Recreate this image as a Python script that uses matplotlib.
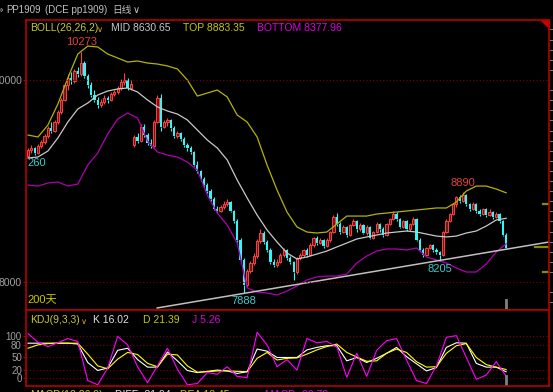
import matplotlib
matplotlib.use("Agg")
import matplotlib.pyplot as plt
from matplotlib.patches import Polygon
from matplotlib.ticker import MultipleLocator

plt.rcParams['font.family'] = ['Liberation Sans', 'Noto Sans CJK SC', 'DejaVu Sans']

# daily candles, PP1909
opens = [9250, 9310, 9330, 9280, 9350, 9390, 9450, 9520, 9500, 9580,
         9680, 9800, 9950, 10020, 9990, 10090, 10060, 10170, 10040, 9950,
         9850, 9800, 9750, 9780, 9820, 9800, 9860, 9880, 9920, 9980,
         10000, 9920, 9360, 9440, 9400, 9530, 9460, 9380, 9350, 9580,
         9820, 9530, 9580, 9600, 9520, 9450, 9480, 9420, 9360, 9330,
         9290, 9160, 9100, 9020, 8960, 8900, 8820, 8720, 8700, 8740,
         8770, 8790, 8700, 8600, 8420, 8220, 7970, 8110, 8190, 8260,
         8410, 8490, 8400, 8320, 8200, 8170, 8200, 8270, 8320, 8240,
         8200, 8100, 8240, 8270, 8320, 8270, 8370, 8440, 8390, 8420,
         8360, 8420, 8500, 8640, 8570, 8500, 8540, 8470, 8560, 8600,
         8520, 8560, 8490, 8540, 8440, 8500, 8570, 8520, 8470, 8570,
         8620, 8670, 8620, 8540, 8600, 8520, 8570, 8620, 8420, 8320,
         8270, 8340, 8370, 8320, 8300, 8270, 8500, 8600, 8670, 8770,
         8840, 8800, 8860, 8770, 8720, 8770, 8700, 8670, 8720, 8660,
         8690, 8640, 8670, 8600, 8470]
highs = [9330, 9360, 9340, 9370, 9410, 9470, 9540, 9580, 9600, 9700,
         9820, 9970, 10060, 10080, 10110, 10130, 10273, 10190, 10060, 9980,
         9900, 9830, 9810, 9850, 9840, 9880, 9900, 9940, 10010, 10070,
         10020, 10000, 9460, 9480, 9560, 9560, 9480, 9420, 9600, 9850,
         9860, 9600, 9620, 9610, 9540, 9500, 9490, 9440, 9380, 9350,
         9300, 9200, 9110, 9040, 8980, 8920, 8840, 8750, 8760, 8800,
         8820, 8800, 8710, 8620, 8440, 8240, 8130, 8210, 8290, 8430,
         8520, 8510, 8420, 8340, 8230, 8230, 8290, 8340, 8330, 8260,
         8210, 8250, 8290, 8330, 8340, 8390, 8450, 8460, 8440, 8430,
         8440, 8510, 8660, 8680, 8590, 8560, 8550, 8570, 8620, 8610,
         8580, 8570, 8560, 8550, 8510, 8590, 8580, 8540, 8580, 8630,
         8700, 8690, 8630, 8610, 8610, 8580, 8640, 8630, 8440, 8340,
         8350, 8380, 8380, 8340, 8310, 8510, 8620, 8680, 8780, 8850,
         8860, 8890, 8870, 8780, 8790, 8780, 8720, 8730, 8730, 8720,
         8700, 8690, 8680, 8610, 8490]
lows = [9230, 9280, 9260, 9270, 9330, 9370, 9430, 9480, 9490, 9560,
        9660, 9790, 9900, 9960, 9970, 10030, 10040, 10020, 9920, 9830,
        9780, 9720, 9730, 9760, 9770, 9790, 9840, 9860, 9900, 9950,
        9900, 9900, 9340, 9380, 9390, 9440, 9360, 9330, 9340, 9570,
        9500, 9520, 9540, 9500, 9430, 9430, 9400, 9340, 9300, 9270,
        9150, 9080, 9000, 8940, 8880, 8800, 8710, 8680, 8690, 8720,
        8750, 8690, 8580, 8400, 8200, 7888, 7950, 8090, 8170, 8240,
        8390, 8380, 8300, 8180, 8150, 8150, 8190, 8250, 8220, 8180,
        8020, 8080, 8220, 8250, 8250, 8260, 8350, 8370, 8380, 8340,
        8350, 8400, 8490, 8550, 8480, 8490, 8450, 8460, 8550, 8500,
        8510, 8480, 8470, 8430, 8430, 8490, 8500, 8450, 8460, 8560,
        8610, 8600, 8530, 8530, 8510, 8510, 8560, 8410, 8310, 8250,
        8260, 8330, 8300, 8280, 8205, 8260, 8490, 8590, 8660, 8740,
        8780, 8790, 8750, 8700, 8710, 8680, 8650, 8660, 8640, 8650,
        8620, 8630, 8580, 8460, 8330]
closes = [9310, 9330, 9280, 9350, 9390, 9450, 9520, 9500, 9580, 9680,
          9800, 9950, 10020, 9990, 10090, 10060, 10170, 10040, 9950, 9850,
          9800, 9750, 9780, 9820, 9800, 9860, 9880, 9920, 9980, 10000,
          9920, 9960, 9440, 9400, 9530, 9460, 9380, 9350, 9580, 9820,
          9530, 9580, 9600, 9520, 9450, 9480, 9420, 9360, 9330, 9290,
          9160, 9100, 9020, 8960, 8900, 8820, 8720, 8700, 8740, 8770,
          8790, 8700, 8600, 8420, 8220, 7970, 8110, 8190, 8260, 8410,
          8490, 8400, 8320, 8200, 8170, 8200, 8270, 8320, 8240, 8200,
          8100, 8240, 8270, 8320, 8270, 8370, 8440, 8390, 8420, 8360,
          8420, 8500, 8640, 8570, 8500, 8540, 8470, 8560, 8600, 8520,
          8560, 8490, 8540, 8440, 8500, 8570, 8520, 8470, 8570, 8620,
          8670, 8620, 8540, 8600, 8520, 8570, 8620, 8420, 8320, 8270,
          8340, 8370, 8320, 8300, 8270, 8500, 8600, 8670, 8770, 8840,
          8800, 8860, 8770, 8720, 8770, 8700, 8670, 8720, 8660, 8690,
          8640, 8670, 8600, 8470, 8340]

# BOLL(26,26,2) and KDJ(9,3,3), read every third bar
ind_bars = list(range(0, 145, 3))
boll_top = [9455, 9436, 9554, 9762, 10020, 10257, 10336, 10327, 10257, 10218,
            10178, 10188, 10168, 10158, 10139, 10109, 10000, 9841, 9871, 9901,
            9832, 9653, 9584, 9436, 9158, 8911, 8693, 8545, 8495, 8485,
            8495, 8574, 8653, 8653, 8653, 8673, 8683, 8693, 8703, 8713,
            8723, 8733, 8733, 8792, 8901, 8950, 8950, 8921, 8883]
boll_mid = [9228, 9238, 9297, 9426, 9584, 9713, 9772, 9851, 9891, 9911,
            9921, 9881, 9802, 9733, 9693, 9663, 9604, 9505, 9406, 9327,
            9208, 9010, 8832, 8663, 8515, 8396, 8287, 8228, 8248, 8277,
            8307, 8347, 8386, 8426, 8446, 8465, 8485, 8495, 8505, 8495,
            8475, 8455, 8446, 8455, 8485, 8505, 8554, 8614, 8631]
boll_bot = [8960, 8950, 8980, 8990, 8950, 8970, 9158, 9277, 9465, 9614,
            9673, 9624, 9396, 9287, 9257, 9238, 9188, 9109, 8861, 8683,
            8564, 8386, 7941, 7901, 7891, 7871, 7911, 7960, 8020, 8050,
            8059, 8059, 8079, 8188, 8257, 8307, 8327, 8327, 8317, 8337,
            8248, 8218, 8188, 8139, 8099, 8099, 8178, 8297, 8378]
kdj_k = [84, 84, 84, 84, 84, 82, 38, 19, 25, 67,
         72, 45, 27, 27, 63, 42, 19, 14, 17, 20,
         18, 12, 16, 70, 65, 50, 50, 50, 68, 74,
         78, 78, 42, 50, 38, 48, 60, 74, 52, 35,
         18, 26, 74, 85, 84, 36, 27, 27, 16.02]
kdj_d = [72, 80, 83, 84, 84, 84, 58, 30, 23, 46,
         62, 57, 36, 28, 58, 56, 30, 15, 16, 18,
         18, 17, 16, 48, 62, 44, 48, 49, 58, 68,
         76, 82, 62, 51, 41, 42, 60, 70, 62, 40,
         27, 28, 60, 78, 83, 50, 33, 27, 21.39]
kdj_j = [107, 86, 76, 85, 95, 88, -5, -15, 25, 100,
         80, 28, -10, 30, 72, 22, -15, -12, 14, 10,
         28, 5, 2, 110, 80, 28, 45, 20, 95, 85,
         88, 75, 3, 60, 5, 67, 90, 95, 44, -5,
         -12, 30, 98, 102, 50, -2, 8, 40, 5.26]

# drawn trend line (bar, price) and right-edge level marks
trend_bars = [38.9, 156.9]
trend_prices = [7743, 8396]
level_marks = [8772, 8347, 8099]

W, H = 553, 392
def fx(x):
    return x / W
def fy(y):
    return 1 - y / H

BG = 'black'
RED = '#b40000'
GRID = '#800000'
UP = '#ff4040'
DOWN = '#30f8f8'

fig = plt.figure(figsize=(W / 100, H / 100), dpi=100, facecolor=BG)
ax = fig.add_axes([fx(26), fy(310), (549 - 26) / W, (310 - 20) / H], facecolor=BG)
ax2 = fig.add_axes([fx(26), fy(386), (549 - 26) / W, (386 - 310) / H], facecolor=BG)

n = len(closes)
xs = list(range(n))
for a in (ax, ax2):
    a.set_xlim(-0.6, 156.9)
    a.set_xticks([])
    for s in a.spines.values():
        s.set_color(RED)
        s.set_linewidth(1.2)

# candles
for i in xs:
    o, h, l, c = opens[i], highs[i], lows[i], closes[i]
    lo, hi = min(o, c), max(o, c)
    col = UP if c >= o else DOWN
    ax.vlines(i, l, lo, color=col, lw=0.8)
    ax.vlines(i, hi, h, color=col, lw=0.8)
    if c >= o:
        ax.bar(i, max(hi - lo, 6), bottom=lo, width=0.68, facecolor='#701818',
               edgecolor=UP, linewidth=0.7)
    else:
        ax.bar(i, max(hi - lo, 6), bottom=lo, width=0.68, color=DOWN, linewidth=0)

ax.plot(ind_bars, boll_top, color='#b4b400', lw=0.9)
ax.plot(ind_bars, boll_mid, color='#c8c8c8', lw=0.9)
ax.plot(ind_bars, boll_bot, color='#b000b0', lw=0.9)
ax.plot(trend_bars, trend_prices, color='#c0c0c0', lw=1.1)

for p in (8000, 10000):
    ax.axhline(p, color=GRID, lw=0.8, ls=(0, (1, 2)))
for k, p in enumerate(level_marks):
    ax.axhline(p, xmin=0.973 if k == 1 else 0.9885, xmax=1, color='#8c8c00', lw=1.6)
ax.axvline(n - 1, ymin=0, ymax=10 / 290, color='#808080', lw=2)
ax.add_patch(Polygon([(0.9847, 1.0), (1.0, 1.0), (1.0, 0.9724)], closed=True,
                     transform=ax.transAxes, color='#d00000', clip_on=False))

ax.set_ylim(7723, 10594)
ax.set_yticks([8000, 10000])
ax.set_yticklabels(['8000', '10000'])
ax.yaxis.set_minor_locator(MultipleLocator(100))
ax.tick_params(axis='y', which='major', colors='#a0a0a0', length=2, labelsize=7.5, pad=1)
ax.tick_params(axis='y', which='major', color=RED)
ax.tick_params(axis='y', which='minor', left=False, right=True, length=3, color='#909090')

# annotations
af = dict(textcoords='offset points', ha='center', fontsize=8)
ax.annotate('10273', (16, 10273), xytext=(0, 4), va='bottom', color='#e04040', **af)
ax.annotate('7888', (65, 7888), xytext=(0, -2), va='top', color='#40c8c8', **af)
ax.annotate('8890', (131, 8890), xytext=(0, 3), va='bottom', color='#e04040', **af)
ax.annotate('8205', (124, 8205), xytext=(0, -2), va='top', color='#40c8c8', **af)
fig.text(fx(27), fy(163), '260', color='#40c8c8', fontsize=8, va='center')
fig.text(fx(27), fy(300), '200天', color='#c8c800', fontsize=8, va='center')

# KDJ
ax2.set_ylim(-17.9, 163)
for v in (0, 20, 50, 80, 100):
    ax2.axhline(v, color=GRID, lw=0.8, ls=(0, (1, 2)))
ax2.plot(ind_bars, kdj_k, color='#ffffff', lw=0.8)
ax2.plot(ind_bars, kdj_d, color='#ffff00', lw=0.8)
ax2.plot(ind_bars, kdj_j, color='#ff00ff', lw=0.8)
ax2.axvline(n - 1, ymin=0, ymax=10 / 76, color='#808080', lw=2)
ax2.set_yticks([0, 20, 50, 80, 100])
ax2.tick_params(axis='y', colors='#a0a0a0', length=2, labelsize=7, pad=1)
ax2.tick_params(axis='y', color=RED)

# header texts
hf = dict(fontsize=7, va='center', color='#c0c0c0')
fig.text(fx(-2), fy(10), '»', **hf)
fig.text(fx(6), fy(10), 'PP1909', **hf)
fig.text(fx(45), fy(10), '(DCE pp1909)', **hf)
fig.text(fx(112), fy(10), '日线', **hf)
fig.text(fx(133), fy(10), '∨', family=['DejaVu Sans'], **hf)

tf = dict(fontsize=7.5, va='center')
fig.text(fx(30), fy(28), 'BOLL(26,26,2)', color='#c8c832', **tf)
fig.text(fx(97), fy(29), '∨', color='#e0a000', fontsize=6, va='center', family=['DejaVu Sans'])
fig.text(fx(111), fy(28), 'MID 8630.65', color='#c8c8c8', **tf)
fig.text(fx(183), fy(28), 'TOP 8883.35', color='#c8c800', **tf)
fig.text(fx(257), fy(28), 'BOTTOM 8377.96', color='#e000e0', **tf)

fig.text(fx(30), fy(320), 'KDJ(9,3,3)', color='#c8c832', **tf)
fig.text(fx(81), fy(321), '∨', color='#e0a000', fontsize=6, va='center', family=['DejaVu Sans'])
fig.text(fx(93), fy(320), 'K 16.02', color='#e0e0e0', **tf)
fig.text(fx(143), fy(320), 'D 21.39', color='#c8c800', **tf)
fig.text(fx(192), fy(320), 'J 5.26', color='#e000e0', **tf)

fig.text(fx(30), fy(395), 'MACD(12,26,9)', color='#c8c832', **tf)
fig.text(fx(115), fy(395), 'DIFF -31.94', color='#e0e0e0', **tf)
fig.text(fx(180), fy(395), 'DEA 13.45', color='#c8c800', **tf)
fig.text(fx(265), fy(395), 'MACD -90.78', color='#e000e0', **tf)

fig.savefig('out.png', dpi=100, facecolor=BG)
